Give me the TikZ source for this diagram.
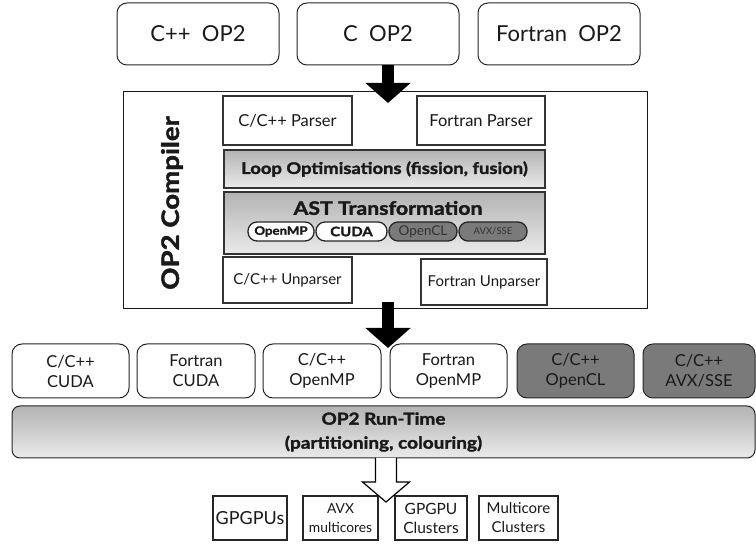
\documentclass[tikz,border=0pt]{standalone}
\usepackage{fontspec}
\setmainfont{Lato}
\newfontfamily\heavy{Lato}[FakeStretch=1.15, BoldFeatures={FakeBold=1.8}]
\usetikzlibrary{arrows.meta,calc}
\newcommand\pbox[7]{\node[#6, minimum width={(#4)-(#2)}, minimum height={(#5)-(#3)}] (#1) at ({((#2)+(#4))/2},{((#3)+(#5))/2}) {#7};}
\tikzset{
  every node/.style={inner sep=0pt, outer sep=0pt, align=center, text=black!90},
  srcbox/.style={draw=black!85, line width=1, rounded corners=10, fill=white, font=\fontsize{22}{24}\selectfont},
  cmpbox/.style={draw=black!90, line width=1, fill=white},
  innerbox/.style={draw=black!80, line width=1.3, fill=white, font=\fontsize{16.5}{18}\selectfont},
  unpbox/.style={innerbox, font=\fontsize{15}{17}\selectfont},
  gradbox/.style={draw=black!80, line width=1.3, top color=black!30, bottom color=black!8},
  pill/.style={draw=black!85, line width=1.3, rounded corners=9, fill=white, font=\heavy\bfseries\fontsize{13}{14}\selectfont},
  darkpill/.style={pill, fill=black!52, font=\fontsize{13.5}{14}\selectfont, text=black!80},
  genbox/.style={draw=black!85, line width=1, rounded corners=10, fill=white, font=\fontsize{16.5}{20}\selectfont},
  darkgen/.style={genbox, fill=black!52},
  rtbox/.style={draw=black!85, line width=1, rounded corners=8, top color=black!30, bottom color=black!8, font=\heavy\bfseries\fontsize{16.5}{24}\selectfont},
  hwbox/.style={draw=black!85, line width=1.2, fill=white, font=\fontsize{14.5}{19}\selectfont},
  blockarrow/.style={line width=12, black, -{Triangle[width=44, length=20]}},
}
\begin{document}
\begin{tikzpicture}[x=1pt,y=-1pt]
\useasboundingbox (0,0) rectangle (756,545);
% source languages
\pbox{cpp}{117}{3}{279}{65}{srcbox}{C++\ \ OP2}
\pbox{c}{297}{3}{459}{65}{srcbox}{C\ \ OP2}
\pbox{fort}{478}{3}{640}{65}{srcbox}{Fortran\ \ OP2}
% compiler
\pbox{compiler}{123}{92}{647}{309}{cmpbox}{}
\node[rotate=90, font=\heavy\bfseries\fontsize{24}{26}\selectfont] (cmplabel) at (172,203) {OP2 Compiler};
\pbox{cparse}{223}{96}{352}{145}{innerbox}{C/C++ Parser}
\pbox{fparse}{417}{96}{545}{145}{innerbox}{Fortran Parser}
\pbox{loop}{224}{150}{545}{188}{gradbox, font=\heavy\bfseries\fontsize{16}{18}\selectfont}{Loop Optimisations (fission, fusion)}
\pbox{ast}{224}{192}{545}{254}{gradbox}{}
\node[font=\heavy\bfseries\fontsize{18.5}{20}\selectfont] (asttitle) at (388,208) {AST Transformation};
\pbox{pomp}{248}{222}{314}{241}{pill, font=\heavy\bfseries\fontsize{11.5}{12}\selectfont}{OpenMP}
\pbox{pcuda}{316}{222}{387}{241}{pill}{CUDA}
\pbox{pocl}{389}{222}{457}{241}{darkpill}{OpenCL}
\pbox{pavx}{459}{222}{527}{241}{darkpill, font=\fontsize{9.5}{11}\selectfont}{AVX/SSE}
\pbox{cunparse}{223}{257}{352}{303}{unpbox}{C/C++ Unparser}
\pbox{funparse}{421}{259}{547}{305}{unpbox}{Fortran Unparser}
% generated code
\pbox{g1}{12}{344}{129}{398}{genbox}{C/C++\\CUDA}
\pbox{g2}{137}{344}{255}{398}{genbox}{Fortran\\CUDA}
\pbox{g3}{263}{344}{381}{398}{genbox}{C/C++\\OpenMP}
\pbox{g4}{390}{344}{507}{398}{genbox}{Fortran\\OpenMP}
\pbox{g5}{517}{344}{634}{398}{darkgen}{C/C++\\OpenCL}
\pbox{g6}{643}{344}{755}{398}{darkgen}{C/C++\\AVX/SSE}
% runtime
\pbox{rt}{12}{406}{755}{458}{rtbox}{OP2 Run-Time\\(partitioning, colouring)}
% hardware
\pbox{h1}{213}{496}{287}{540}{hwbox, font=\fontsize{18}{20}\selectfont}{GPGPUs}
\pbox{h2}{303}{496}{378}{540}{hwbox, font=\fontsize{13.8}{19}\selectfont}{AVX\\multicores}
\pbox{h3}{395}{496}{467}{540}{hwbox, font=\fontsize{15.5}{19}\selectfont}{GPGPU\\Clusters}
\pbox{h4}{479}{496}{558}{540}{hwbox, font=\fontsize{15}{19}\selectfont}{Multicore\\Clusters}
% arrows
\coordinate (a1tip) at (388,103);
\draw[blockarrow] (c.south -| a1tip) -- (a1tip);
\coordinate (a2tip) at (388,348);
\coordinate (a2start) at (388,302);
\draw[blockarrow] (a2start) -- (a2tip);
\coordinate (a3tip) at (386,502);
\draw[line width=1.2, fill=white] (rt.south -| a3tip) ++(-10.5,0) -- ++(0,24) -- ++(-13,0) -- (a3tip) -- ++(23.5,-20) -- ++(-13,0) -- ++(0,-24);
\end{tikzpicture}
\end{document}
